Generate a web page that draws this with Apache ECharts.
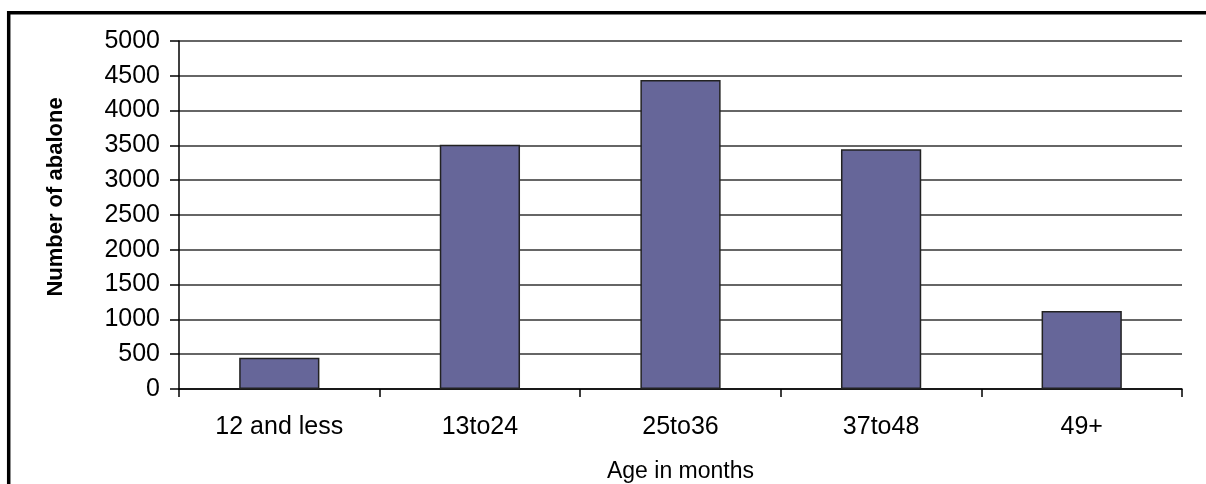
<!DOCTYPE html>
<html>
<head>
<meta charset="utf-8">
<title>Number of abalone by age</title>
<script src="https://cdn.jsdelivr.net/npm/echarts@6/dist/echarts.min.js"></script>
<style>
  html, body { margin: 0; padding: 0; background: #ffffff; }
  #chart { position: absolute; left: 0; top: 0; width: 1206px; height: 484px; }
</style>
</head>
<body>
<div id="chart"></div>
<script>
// Age groups (months) and abalone counts
const categories = ['12 and less', '13to24', '25to36', '37to48', '49+'];
const counts = [450, 3510, 4440, 3445, 1120];
const yTicks = { min: 0, max: 5000, interval: 500 };
const xTitle = 'Age in months';
const yTitle = 'Number of abalone';

const font = '"Liberation Sans", Arial, sans-serif';

const chart = echarts.init(document.getElementById('chart'), null, { renderer: 'canvas' });

chart.setOption({
  backgroundColor: '#ffffff',
  animation: false,
  grid: { left: 179, right: 24, top: 41, bottom: 95, containLabel: false, outerBoundsMode: 'none' },
  graphic: [
    {
      type: 'polyline',
      shape: { points: [[8.7, 484], [8.7, 12.7], [1206, 12.7]] },
      style: { stroke: '#000000', lineWidth: 3.5, fill: null }
    }
  ],
  xAxis: {
    type: 'category',
    data: categories,
    boundaryGap: true,
    name: xTitle,
    nameLocation: 'middle',
    nameGap: 71,
    nameTextStyle: { fontFamily: font, fontSize: 23, color: '#000000', verticalAlign: 'top' },
    axisLine: { show: true, lineStyle: { color: '#000000', width: 1.5 } },
    axisTick: { show: true, alignWithLabel: false, length: 8, lineStyle: { color: '#000000', width: 1.5 } },
    axisLabel: { margin: 26, fontFamily: font, fontSize: 25, color: '#000000' },
    splitLine: { show: false }
  },
  yAxis: {
    type: 'value',
    min: yTicks.min,
    max: yTicks.max,
    interval: yTicks.interval,
    name: yTitle,
    nameLocation: 'middle',
    nameGap: 112,
    nameRotate: 90,
    nameTextStyle: { fontFamily: font, fontSize: 22, fontWeight: 'bold', color: '#000000', padding: [0, 0, 0, 36] },
    axisLine: { show: true, lineStyle: { color: '#000000', width: 1.5 } },
    axisTick: { show: true, length: 9, lineStyle: { color: '#000000', width: 1.5 } },
    axisLabel: {
      margin: 19, fontFamily: font, fontSize: 25, color: '#000000',
      formatter: function (v) { return String(v); }
    },
    splitLine: { show: true, lineStyle: { color: '#333333', width: 1.5 } }
  },
  series: [
    {
      type: 'bar',
      data: counts,
      barWidth: '40%',
      itemStyle: { color: '#666699', borderColor: '#222222', borderWidth: 1.5 }
    }
  ]
});
</script>
</body>
</html>
